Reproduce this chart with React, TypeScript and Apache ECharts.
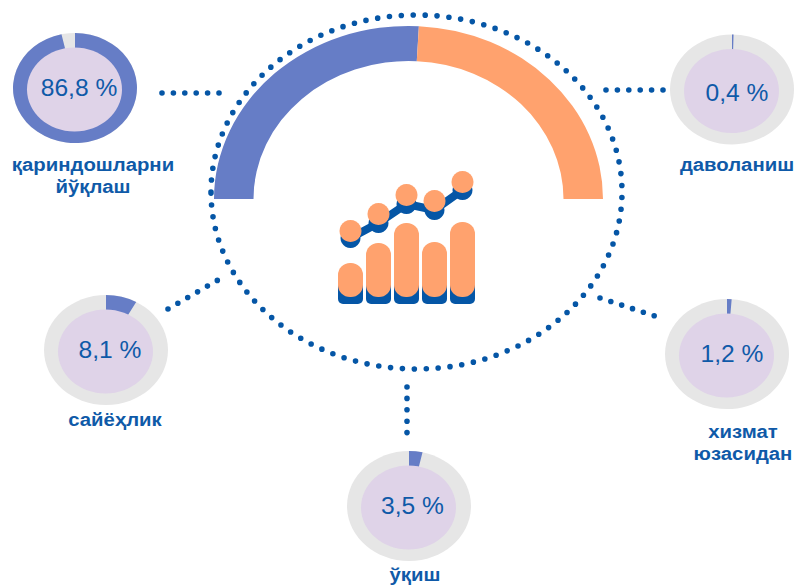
import React, { useEffect, useRef } from "react";
import * as echarts from "echarts";

// Ring labels and values
const ringNames = ["қариндошларни\nйўқлаш", "даволаниш", "хизмат\nюзасидан", "сайёҳлик", "ўқиш"];
const ringLabels = ["86,8 %", "0,4 %", "1,2 %", "8,1 %", "3,5 %"];
// share of each ring that is painted in the picture (the first one is drawn fuller than its label)
const ringFill = [96.5, 0.4, 1.2, 8.1, 3.5];
// half-ring shares: blue, orange
const halfRing = [51.7, 48.3];
// icon values
const iconCats = ["a", "b", "c", "d", "e"];
const iconBarBack = [30, 50, 70, 51, 71];
const iconBarFront = [34, 54, 74, 55, 75];
const iconLineBack = [66, 81, 100, 94, 114];
const iconLineFront = [73, 90, 109, 103, 122];

const BLUE = "#667DC6";
const ORANGE = "#FFA26E";
const GREY = "#E6E6E6";
const LILAC = "#DFD3E8";
const DARK = "#0556A6";
const TEXT = "#0F5AA8";

const ringPos = [
  { cx: 75, cy: 88, lx: 79, ly: 88, nx: 93, ny: 165 },
  { cx: 732, cy: 89.5, lx: 737, ly: 93, nx: 737, ny: 165 },
  { cx: 727, cy: 354, lx: 732, ly: 354, nx: 743, ny: 432 },
  { cx: 106, cy: 350, lx: 110, ly: 350, nx: 115, ny: 420 },
  { cx: 409, cy: 506, lx: 412.5, ly: 506, nx: 415, ny: 575 },
];
const leaders = [
  [162, 93, 220, 93],
  [606, 90, 665, 90],
  [600, 298, 655, 316],
  [168, 309, 218, 280],
  [407, 387, 407, 439],
];

const renderRing = (params: any, api: any) => {
  const p = ringPos[params.dataIndex];
  const share = api.value(0) / 100;
  const start = -Math.PI / 2;
  return {
    type: "group",
    children: [
      { type: "ellipse", shape: { cx: p.cx, cy: p.cy, rx: 62, ry: 55 }, style: { fill: GREY } },
      {
        type: "sector",
        x: p.cx,
        y: p.cy,
        scaleX: 1,
        scaleY: 55 / 62,
        shape: { cx: 0, cy: 0, r: 62, r0: 40, startAngle: start, endAngle: start + share * Math.PI * 2, clockwise: true },
        style: { fill: BLUE },
      },
      { type: "ellipse", shape: { cx: p.cx - 0.5, cy: p.cy + 1.5, rx: 47.5, ry: 42 }, style: { fill: LILAC } },
    ],
  };
};

const renderHalf = (params: any, api: any) => {
  const before = params.dataIndex === 0 ? 0 : api.value(0, 0);
  const v = api.value(0);
  const start = Math.PI + (before / 100) * Math.PI;
  return {
    type: "sector",
    x: 408.5,
    y: 199,
    scaleX: 1,
    scaleY: 0.89,
    shape: { cx: 0, cy: 0, r: 194.5, r0: 155, startAngle: start, endAngle: start + (v / 100) * Math.PI, clockwise: true },
    style: { fill: params.dataIndex === 0 ? BLUE : ORANGE },
  };
};

export default function App() {
  const ref = useRef<HTMLDivElement>(null);
  useEffect(() => {
    document.body.style.margin = "0";
    const chart = echarts.init(ref.current!, null, { renderer: "svg" });
    const valueTexts = ringLabels.map((t, i) => ({
      type: "text",
      x: ringPos[i].lx,
      y: ringPos[i].ly,
      scaleX: 1.07,
      z: 20,
      style: { text: t, fill: TEXT, font: '23px "Liberation Sans", Arial, sans-serif', textAlign: "center", textVerticalAlign: "middle" },
    }));
    const nameTexts = ringNames.map((t, i) => ({
      type: "text",
      x: ringPos[i].nx,
      y: ringPos[i].ny,
      scaleX: 1.13,
      z: 20,
      style: {
        text: t,
        fill: TEXT,
        font: 'bold 18px "Liberation Sans", Arial, sans-serif',
        textAlign: "center",
        textVerticalAlign: t.includes("\n") ? "top" : "middle",
        lineHeight: 22,
      },
    }));
    nameTexts.forEach((n: any) => {
      if (n.style.textVerticalAlign === "top") n.y -= 11;
    });
    const dots = leaders.map(([x1, y1, x2, y2]) => ({
      type: "line",
      shape: { x1, y1, x2, y2 },
      z: 1,
      style: { stroke: DARK, lineWidth: 5.6, lineCap: "round", lineDash: [0, 11.4], fill: "none" },
    }));
    chart.setOption({
      animation: false,
      backgroundColor: "#fff",
      grid: { left: 336.5, width: 140, top: 160, height: 144 },
      xAxis: { type: "category", show: false, data: iconCats },
      yAxis: { type: "value", show: false, min: 0, max: 144 },
      graphic: [
        {
          type: "ellipse",
          shape: { cx: 416.5, cy: 192, rx: 205.5, ry: 177 },
          z: 1,
          style: { fill: "none", stroke: DARK, lineWidth: 5.6, lineCap: "round", lineDash: [0, 11.9] },
        },
        ...dots,
        ...valueTexts,
        ...nameTexts,
      ],
      series: [
        { type: "custom", coordinateSystem: "none", silent: true, z: 3, renderItem: renderHalf, data: halfRing.map((v) => [v]) },
        { type: "custom", coordinateSystem: "none", silent: true, z: 3, renderItem: renderRing, data: ringFill.map((v) => [v]) },
        {
          type: "bar",
          data: iconBarBack,
          barWidth: 25,
          barGap: "-100%",
          z: 4,
          silent: true,
          itemStyle: { color: DARK, borderRadius: 5 },
        },
        {
          type: "bar",
          stack: "front",
          data: iconBarFront.map(() => 7),
          barWidth: 25,
          barGap: "-100%",
          z: 5,
          silent: true,
          itemStyle: { color: "transparent" },
        },
        {
          type: "bar",
          stack: "front",
          data: iconBarFront,
          barWidth: 25,
          barGap: "-100%",
          z: 5,
          silent: true,
          itemStyle: { color: ORANGE, borderRadius: 12 },
        },
        {
          type: "line",
          data: iconLineBack,
          z: 6,
          silent: true,
          symbol: "circle",
          symbolSize: 20,
          lineStyle: { color: DARK, width: 8 },
          itemStyle: { color: DARK },
        },
        {
          type: "line",
          data: iconLineFront,
          z: 7,
          silent: true,
          symbol: "circle",
          symbolSize: 22,
          lineStyle: { opacity: 0 },
          itemStyle: { color: ORANGE },
        },
      ],
    });
    return () => chart.dispose();
  }, []);
  return <div ref={ref} style={{ position: "fixed", left: 0, top: 0, width: 796, height: 586 }} />;
}
